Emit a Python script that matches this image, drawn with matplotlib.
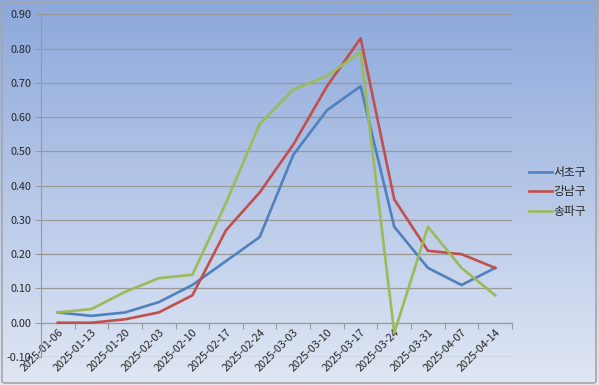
import matplotlib
matplotlib.use("Agg")
import matplotlib.pyplot as plt
import numpy as np
from matplotlib.patches import FancyBboxPatch
from matplotlib.colors import LinearSegmentedColormap

plt.rcParams['font.family'] = ['Noto Sans CJK KR', 'DejaVu Sans']

dates = ["2025-01-06", "2025-01-13", "2025-01-20", "2025-02-03", "2025-02-10",
         "2025-02-17", "2025-02-24", "2025-03-03", "2025-03-10", "2025-03-17",
         "2025-03-24", "2025-03-31", "2025-04-07", "2025-04-14"]
seocho = [0.03, 0.02, 0.03, 0.06, 0.11, 0.18, 0.25, 0.49, 0.62, 0.69, 0.28, 0.16, 0.11, 0.16]
gangnam = [0.00, 0.00, 0.01, 0.03, 0.08, 0.27, 0.38, 0.52, 0.69, 0.83, 0.36, 0.21, 0.20, 0.16]
songpa = [0.03, 0.04, 0.09, 0.13, 0.14, 0.35, 0.58, 0.68, 0.72, 0.79, -0.03, 0.28, 0.16, 0.08]
series_names = ["서초구", "강남구", "송파구"]
colors = ["#4F81BD", "#C0504D", "#9BBB59"]
yticks = [-0.10, 0.00, 0.10, 0.20, 0.30, 0.40, 0.50, 0.60, 0.70, 0.80, 0.90]

W, H = 599, 385
fig = plt.figure(figsize=(W / 100, H / 100), dpi=100)

# background gradient over whole figure
bg = fig.add_axes([0, 0, 1, 1], zorder=-10)
grad = np.linspace(0, 1, 256).reshape(-1, 1)
cmap = LinearSegmentedColormap.from_list("g", ["#8CA8DB", "#E0E7F4"])
bg.imshow(grad, aspect="auto", cmap=cmap, extent=[0, 1, 0, 1], origin="upper")
bg.set_xlim(0, 1); bg.set_ylim(0, 1)
bg.axis("off")
border = FancyBboxPatch((2 / W, 2 / H), 1 - 5 / W, 1 - 5 / H,
                        boxstyle="round,pad=0,rounding_size=0.006",
                        transform=bg.transAxes, fill=False, edgecolor="#A6A6A6", linewidth=1.2)
bg.add_patch(border)

left, right, top, bottom = 41, 512, 14.3, 357
ax = fig.add_axes([left / W, 1 - bottom / H, (right - left) / W, (bottom - top) / H])
ax.patch.set_alpha(0)

for s in ["top", "right"]:
    ax.spines[s].set_visible(False)
ax.spines["bottom"].set_position(("data", 0))
ax.spines["bottom"].set_color("#999999")
ax.spines["left"].set_color("#999999")

x = np.arange(len(dates))
for vals, name, c in zip([seocho, gangnam, songpa], series_names, colors):
    ax.plot(x, vals, color=c, linewidth=1.9, label=name, zorder=3)

ax.set_xlim(-0.5, len(dates) - 0.5)
ax.set_ylim(-0.10, 0.90)
ax.set_yticks(yticks)
ax.set_yticklabels([f"{v:.2f}" for v in yticks], fontsize=7.8, color="#262626")
ax.grid(axis="y", color="#999999", linewidth=0.9, zorder=0)
ax.set_axisbelow(True)

ax.set_xticks(np.arange(-0.5, len(dates), 1.0))
ax.set_xticklabels([])
ax.set_xticks(x, minor=True)
ax.set_xticklabels(dates, minor=True, rotation=45, ha="right", va="top",
                   rotation_mode="anchor", fontsize=7.8, color="#262626")
ax.tick_params(axis="x", which="major", length=4, color="#999999", direction="out")
ax.tick_params(axis="x", which="minor", length=0, pad=3)
ax.tick_params(axis="y", length=4, color="#999999", pad=3)

leg = fig.legend(handles=ax.get_lines(), labels=series_names,
                 loc="center left", bbox_to_anchor=(529 / W, 1 - 192 / H),
                 bbox_transform=fig.transFigure, frameon=False,
                 borderaxespad=0, borderpad=0,
                 fontsize=8.5, handlelength=1.95, handletextpad=0.1, labelspacing=0.52,
                 labelcolor="#262626")

fig.savefig("out.png", dpi=100)
